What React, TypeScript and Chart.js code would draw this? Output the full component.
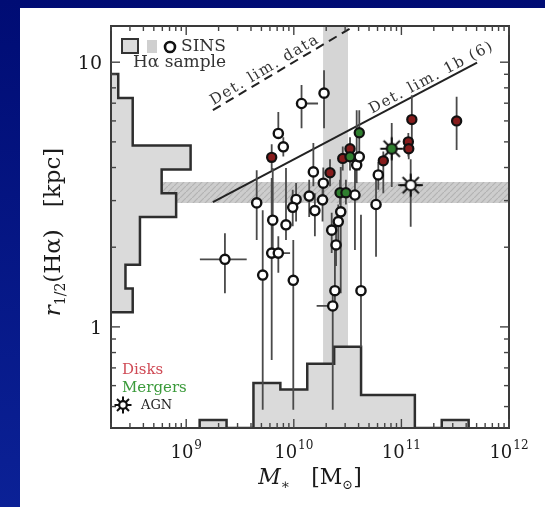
import React, { useEffect, useRef } from 'react';
import { Chart, registerables } from 'chart.js';

Chart.register(...registerables);

const SERIF = '"DejaVu Serif", "Liberation Serif", serif';

// ---------- axis ranges & ticks ----------
const massMin = 2e8;
const massMax = 1e12;
const sizeMin = 0.415;
const sizeMax = 13.7;

const massTickValues = [1e9, 1e10, 1e11, 1e12];
const massTickExponents = ['9', '10', '11', '12'];
const sizeTickValues = [1, 10];
const sizeTickLabels = ['1', '10'];

// ---------- histograms ----------
const massBinEdgesLog = [9.125, 9.375, 9.625, 9.875, 10.125, 10.375, 10.625, 10.875, 11.125, 11.375, 11.625];
const massBinCounts = [1, 0, 5.6, 4.8, 8, 10.1, 4.1, 4.1, 0, 1];
const sizeBinEdgesLog = [0.055, 0.145, 0.235, 0.325, 0.415, 0.505, 0.595, 0.685, 0.775, 0.865, 0.955];
const sizeBinCounts = [3, 2, 4, 4, 9, 7, 11, 3, 3, 1];
const massCountMax = 50;
const sizeCountMax = 55;

// ---------- shaded bands ----------
const massBandRange = [1.87e10, 3.19e10];
const sizeBandRange = [2.94, 3.53];

// ---------- detection limit lines ----------
const detDataMass = [1.77e9, 3.33e10];
const detDataSize = [6.59, 13.4];
const det1bMass = [1.77e9, 5.05e11];
const det1bSize = [2.96, 9.96];

// ---------- SINS galaxies (mass in 1e10 Msun, r in kpc) ----------
const sinsMass = [1.18, 1.91, 0.718, 0.799, 1.52, 1.88, 6.10, 5.81, 3.70, 0.452, 1.05, 1.39, 0.977, 1.85, 1.57, 0.637, 0.846, 2.73, 2.59, 2.25, 2.47, 0.229, 0.623, 0.718, 0.514, 0.989, 2.41, 4.21, 2.30, 3.84, 4.06];
const sinsSize = [6.98, 7.64, 5.38, 4.79, 3.85, 3.49, 3.75, 2.90, 3.15, 2.94, 3.03, 3.12, 2.83, 3.02, 2.75, 2.53, 2.43, 2.72, 2.50, 2.32, 2.04, 1.80, 1.90, 1.90, 1.57, 1.50, 1.37, 1.37, 1.20, 4.09, 4.39];
const sinsSizeLo = [5.63, 5.63, 5.17, 4.40, 3.40, 2.90, 3.30, 1.84, 1.95, 2.13, 2.50, 2.60, 2.40, 2.50, 2.20, 1.95, 2.13, 1.34, 2.10, 1.90, 1.70, 1.34, 0.75, 1.60, 0.486, 0.486, 1.20, 0.84, 0.486, 3.50, 3.90];
const sinsSizeHi = [8.20, 9.33, 6.49, 5.20, 4.95, 4.00, 4.20, 3.81, 4.00, 3.91, 3.50, 3.60, 3.30, 3.50, 3.20, 3.98, 3.98, 4.02, 2.90, 2.70, 2.40, 2.26, 3.65, 2.20, 2.76, 2.13, 1.95, 2.65, 1.34, 6.59, 4.90];

const diskMass = [0.623, 2.17, 3.33, 2.85, 6.79, 11.6, 11.7, 12.5, 32.6];
const diskSize = [4.37, 3.82, 4.71, 4.33, 4.24, 5.00, 4.71, 6.07, 6.00];
const diskSizeLo = [3.90, 3.40, 4.20, 3.90, 3.20, 4.40, 4.30, 5.00, 4.66];
const diskSizeHi = [4.90, 4.30, 5.20, 4.80, 4.60, 5.40, 5.10, 7.50, 7.40];

const mergerMass = [4.06, 3.33, 2.69, 3.05];
const mergerSize = [5.41, 4.39, 3.21, 3.21];
const mergerSizeLo = [4.50, 3.90, 2.90, 2.90];
const mergerSizeHi = [6.59, 4.90, 3.60, 3.60];

const mergerAgnMass = [8.13];
const mergerAgnSize = [4.71];
const mergerAgnSizeLo = [3.38];
const mergerAgnSizeHi = [5.89];

const agnMass = [12.2];
const agnSize = [3.43];
const agnSizeLo = [2.39];
const agnSizeHi = [4.30];

// horizontal (mass) error bars
const hbarSize = [6.98, 1.80, 1.90, 1.20, 3.43];
const hbarMassLo = [1.10, 0.134, 0.60, 1.63, 9.29];
const hbarMassHi = [1.68, 0.365, 0.923, 2.30, 15.9];

const M = (v: number) => v * 1e10;

function drawAgn(g: CanvasRenderingContext2D, cx: number, cy: number, R: number, r: number, fill: string) {
  g.save();
  g.strokeStyle = '#111';
  g.lineWidth = 2;
  for (let i = 0; i < 8; i++) {
    const t = (i * Math.PI) / 4;
    g.beginPath();
    g.moveTo(cx + r * Math.cos(t), cy + r * Math.sin(t));
    g.lineTo(cx + R * Math.cos(t), cy + R * Math.sin(t));
    g.stroke();
  }
  g.beginPath();
  g.arc(cx, cy, r, 0, Math.PI * 2);
  g.fillStyle = fill;
  g.fill();
  g.lineWidth = 2.2;
  g.stroke();
  g.restore();
}

function makeAgnCanvas(fill: string) {
  const c = document.createElement('canvas');
  c.width = 26;
  c.height = 26;
  const g = c.getContext('2d')!;
  drawAgn(g, 13, 13, 11.5, 5, fill);
  return c;
}

type Part = { t: string; font: string; dy: number };
function drawRich(ctx: CanvasRenderingContext2D, parts: Part[], x: number, y: number) {
  let total = 0;
  const widths: number[] = [];
  for (const p of parts) {
    ctx.font = p.font;
    const w = ctx.measureText(p.t).width;
    widths.push(w);
    total += w;
  }
  let cx = x - total / 2;
  parts.forEach((p, i) => {
    ctx.font = p.font;
    ctx.fillText(p.t, cx, y + p.dy);
    cx += widths[i];
  });
}

function drawAlong(ctx: CanvasRenderingContext2D, text: string, x0: number, y0: number, x1: number, y1: number, dist: number, off: number) {
  const ang = Math.atan2(y1 - y0, x1 - x0);
  ctx.save();
  ctx.translate(x0 + Math.cos(ang) * dist, y0 + Math.sin(ang) * dist);
  ctx.rotate(ang);
  ctx.fillText(text, 0, -off);
  ctx.restore();
}

const decorPlugin = {
  id: 'decor',
  afterDatasetsDraw(chart: any) {
    const { ctx, chartArea: a } = chart;
    const xs = chart.scales.x;
    const ys = chart.scales.y;
    ctx.save();

    // frame
    ctx.strokeStyle = '#3a3a3a';
    ctx.lineWidth = 2;
    ctx.strokeRect(a.left, a.top, a.right - a.left, a.bottom - a.top);

    // inward ticks
    ctx.strokeStyle = '#444';
    ctx.lineWidth = 1.4;
    const seg = (x0: number, y0: number, x1: number, y1: number) => {
      ctx.beginPath();
      ctx.moveTo(x0, y0);
      ctx.lineTo(x1, y1);
      ctx.stroke();
    };
    for (let e = 8; e <= 12; e++) {
      for (let k = 1; k <= 9; k++) {
        const v = k * Math.pow(10, e);
        if (v < massMin * 0.999 || v > massMax * 1.001) continue;
        const px = xs.getPixelForValue(v);
        const len = k === 1 ? 9 : 5;
        seg(px, a.bottom, px, a.bottom - len);
        seg(px, a.top, px, a.top + len);
      }
    }
    for (let e = -1; e <= 1; e++) {
      for (let k = 1; k <= 9; k++) {
        const v = k * Math.pow(10, e);
        if (v < sizeMin || v > sizeMax) continue;
        const py = ys.getPixelForValue(v);
        const len = k === 1 ? 9 : 5;
        seg(a.left, py, a.left + len, py);
        seg(a.right, py, a.right - len, py);
      }
    }

    // tick labels
    ctx.fillStyle = '#1a1a1a';
    ctx.textBaseline = 'alphabetic';
    ctx.textAlign = 'left';
    massTickValues.forEach((v, i) => {
      const px = xs.getPixelForValue(v);
      ctx.font = `18px ${SERIF}`;
      const w1 = ctx.measureText('10').width;
      ctx.font = `12px ${SERIF}`;
      const w2 = ctx.measureText(massTickExponents[i]).width;
      const x0 = px - (w1 + w2 + 1) / 2;
      ctx.font = `18px ${SERIF}`;
      ctx.fillText('10', x0, a.bottom + 30);
      ctx.font = `12px ${SERIF}`;
      ctx.fillText(massTickExponents[i], x0 + w1 + 1, a.bottom + 21);
    });
    ctx.textAlign = 'right';
    ctx.font = `19px ${SERIF}`;
    sizeTickValues.forEach((v, i) => {
      const py = ys.getPixelForValue(v);
      ctx.fillText(sizeTickLabels[i], a.left - 9, py + 7);
    });

    // axis titles
    ctx.textAlign = 'left';
    ctx.fillStyle = '#1a1a1a';
    drawRich(ctx, [
      { t: 'M', font: `italic 22px ${SERIF}`, dy: 0 },
      { t: '∗', font: `14px ${SERIF}`, dy: 5 },
      { t: '   [M', font: `22px ${SERIF}`, dy: 0 },
      { t: '⊙', font: `13px ${SERIF}`, dy: 5 },
      { t: ']', font: `22px ${SERIF}`, dy: 0 },
    ], (a.left + a.right) / 2, a.bottom + 56);

    ctx.save();
    ctx.translate(a.left - 51, (a.top + a.bottom) / 2 + 5);
    ctx.rotate(-Math.PI / 2);
    drawRich(ctx, [
      { t: 'r', font: `italic 23px ${SERIF}`, dy: 0 },
      { t: '1/2', font: `14px ${SERIF}`, dy: 5 },
      { t: '(Hα)', font: `23px ${SERIF}`, dy: 0 },
      { t: '   [kpc]', font: `23px ${SERIF}`, dy: 0 },
    ], 0, 0);
    ctx.restore();

    // detection limit labels
    ctx.fillStyle = '#333';
    ctx.font = `15px ${SERIF}`;
    (ctx as any).letterSpacing = '1.5px';
    drawAlong(ctx, 'Det. lim. data',
      xs.getPixelForValue(detDataMass[0]), ys.getPixelForValue(detDataSize[0]),
      xs.getPixelForValue(detDataMass[1]), ys.getPixelForValue(detDataSize[1]), 3, 4);
    drawAlong(ctx, 'Det. lim. 1b (6)',
      xs.getPixelForValue(det1bMass[0]), ys.getPixelForValue(det1bSize[0]),
      xs.getPixelForValue(det1bMass[1]), ys.getPixelForValue(det1bSize[1]), 182, 4);
    (ctx as any).letterSpacing = '0px';

    // top-left legend
    ctx.fillStyle = '#dadada';
    ctx.fillRect(a.left + 11, a.top + 13, 16, 14);
    ctx.strokeStyle = '#333';
    ctx.lineWidth = 2;
    ctx.strokeRect(a.left + 11, a.top + 13, 16, 14);
    ctx.fillStyle = '#cfcfcf';
    ctx.fillRect(a.left + 36, a.top + 14, 10, 13);
    ctx.beginPath();
    ctx.arc(a.left + 59, a.top + 21, 5, 0, Math.PI * 2);
    ctx.fillStyle = '#fff';
    ctx.fill();
    ctx.lineWidth = 2.6;
    ctx.strokeStyle = '#111';
    ctx.stroke();
    ctx.fillStyle = '#333';
    ctx.font = `17px ${SERIF}`;
    ctx.textBaseline = 'middle';
    ctx.textAlign = 'left';
    ctx.fillText('SINS', a.left + 70, a.top + 21);
    ctx.fillText('Hα sample', a.left + 22, a.top + 37);

    // bottom-left legend
    ctx.font = `15px ${SERIF}`;
    ctx.fillStyle = '#cf4a55';
    ctx.fillText('Disks', a.left + 11, a.bottom - 58);
    ctx.fillStyle = '#3a9a3a';
    ctx.fillText('Mergers', a.left + 11, a.bottom - 40);
    drawAgn(ctx, a.left + 12, a.bottom - 23, 8.5, 3.8, '#fff');
    ctx.fillStyle = '#222';
    ctx.font = `13px ${SERIF}`;
    ctx.fillText('AGN', a.left + 30, a.bottom - 22);

    ctx.restore();
  },
};

export default function App() {
  const ref = useRef<HTMLCanvasElement>(null);

  useEffect(() => {
    const canvas = ref.current;
    if (!canvas) return;
    const c2d = canvas.getContext('2d')!;

    // hatch pattern for horizontal band
    const pc = document.createElement('canvas');
    pc.width = 6;
    pc.height = 6;
    const pg = pc.getContext('2d')!;
    pg.fillStyle = '#cdcdcd';
    pg.fillRect(0, 0, 6, 6);
    pg.strokeStyle = '#b3b3b3';
    pg.lineWidth = 1.2;
    pg.beginPath();
    pg.moveTo(0, 6);
    pg.lineTo(6, 0);
    pg.stroke();
    const hatch = c2d.createPattern(pc, 'repeat');

    const agnImg = makeAgnCanvas('#ffffff');
    const agnGreenImg = makeAgnCanvas('#2f7f2f');

    const massHist: any[] = [{ x: Math.pow(10, massBinEdgesLog[0]), y: 0 }];
    massBinCounts.forEach((c, i) => {
      massHist.push({ x: Math.pow(10, massBinEdgesLog[i]), y: c }, { x: Math.pow(10, massBinEdgesLog[i + 1]), y: c });
    });
    massHist.push({ x: Math.pow(10, massBinEdgesLog[massBinEdgesLog.length - 1]), y: 0 });

    const sizeHist: any[] = [{ x: 0, y: Math.pow(10, sizeBinEdgesLog[0]) }];
    sizeBinCounts.forEach((c, i) => {
      sizeHist.push({ x: c, y: Math.pow(10, sizeBinEdgesLog[i]) }, { x: c, y: Math.pow(10, sizeBinEdgesLog[i + 1]) });
    });
    sizeHist.push({ x: 0, y: Math.pow(10, sizeBinEdgesLog[sizeBinEdgesLog.length - 1]) });

    const vErr: any[] = [];
    const addV = (mass: number[], lo: number[], hi: number[]) => {
      mass.forEach((m, i) => {
        vErr.push({ x: M(m), y: lo[i] }, { x: M(m), y: hi[i] }, { x: M(m), y: null });
      });
    };
    addV(sinsMass, sinsSizeLo, sinsSizeHi);
    addV(diskMass, diskSizeLo, diskSizeHi);
    addV(mergerMass, mergerSizeLo, mergerSizeHi);
    addV(mergerAgnMass, mergerAgnSizeLo, mergerAgnSizeHi);
    addV(agnMass, agnSizeLo, agnSizeHi);

    const hErr: any[] = [];
    hbarSize.forEach((r, i) => {
      hErr.push({ x: M(hbarMassLo[i]), y: r }, { x: M(hbarMassHi[i]), y: r }, { x: M(hbarMassHi[i]), y: null });
    });

    const pts = (mass: number[], size: number[]) => mass.map((m, i) => ({ x: M(m), y: size[i] }));

    const lineBase = { type: 'line', pointRadius: 0, pointHitRadius: 0, tension: 0, spanGaps: false };
    const transparent = 'rgba(0,0,0,0)';

    const chart = new Chart(canvas, {
      type: 'scatter',
      data: {
        datasets: [
          {
            ...lineBase,
            data: [
              { x: massBandRange[0], y: sizeMin },
              { x: massBandRange[1], y: sizeMin },
              { x: massBandRange[1], y: sizeMax },
              { x: massBandRange[0], y: sizeMax },
            ],
            fill: 'shape',
            backgroundColor: '#d5d5d5',
            borderColor: transparent,
            borderWidth: 0,
            order: 100,
          },
          {
            ...lineBase,
            data: [
              { x: massMin, y: sizeBandRange[0] },
              { x: massMax, y: sizeBandRange[0] },
              { x: massMax, y: sizeBandRange[1] },
              { x: massMin, y: sizeBandRange[1] },
            ],
            fill: 'shape',
            backgroundColor: hatch,
            borderColor: transparent,
            borderWidth: 0,
            order: 99,
          },
          {
            ...lineBase,
            data: massHist,
            yAxisID: 'hy',
            fill: 'shape',
            backgroundColor: '#dadada',
            borderColor: '#2e2e2e',
            borderWidth: 2.5,
            order: 90,
          },
          {
            ...lineBase,
            data: sizeHist,
            xAxisID: 'hx',
            fill: 'shape',
            backgroundColor: '#dadada',
            borderColor: '#2e2e2e',
            borderWidth: 2.5,
            order: 89,
          },
          {
            ...lineBase,
            data: detDataMass.map((m, i) => ({ x: m, y: detDataSize[i] })),
            borderColor: '#222',
            borderWidth: 2,
            borderDash: [9, 6],
            fill: false,
            order: 80,
          },
          {
            ...lineBase,
            data: det1bMass.map((m, i) => ({ x: m, y: det1bSize[i] })),
            borderColor: '#222',
            borderWidth: 2,
            fill: false,
            order: 80,
          },
          {
            ...lineBase,
            data: vErr,
            borderColor: '#4a4a4a',
            borderWidth: 1.8,
            fill: false,
            order: 70,
          },
          {
            ...lineBase,
            data: hErr,
            borderColor: '#4a4a4a',
            borderWidth: 1.8,
            fill: false,
            order: 70,
          },
          {
            data: pts(sinsMass, sinsSize),
            pointRadius: 4.6,
            pointBackgroundColor: '#ffffff',
            pointBorderColor: '#111',
            pointBorderWidth: 2.4,
            order: 10,
          },
          {
            data: pts(diskMass, diskSize),
            pointRadius: 4.6,
            pointBackgroundColor: '#861c1c',
            pointBorderColor: '#111',
            pointBorderWidth: 2.2,
            order: 9,
          },
          {
            data: pts(mergerMass, mergerSize),
            pointRadius: 4.6,
            pointBackgroundColor: '#2f7f2f',
            pointBorderColor: '#111',
            pointBorderWidth: 2.2,
            order: 8,
          },
          {
            data: pts(mergerAgnMass, mergerAgnSize),
            pointStyle: agnGreenImg,
            order: 7,
          },
          {
            data: pts(agnMass, agnSize),
            pointStyle: agnImg,
            order: 6,
          },
        ] as any,
      },
      options: {
        animation: false,
        responsive: false,
        events: [],
        layout: { padding: { left: 0, top: 26, right: 36, bottom: 0 } },
        plugins: { legend: { display: false }, tooltip: { enabled: false } },
        scales: {
          x: {
            type: 'logarithmic',
            position: 'bottom',
            min: massMin,
            max: massMax,
            bounds: 'data',
            grid: { display: false, drawTicks: false },
            border: { display: false },
            ticks: { display: false },
            afterFit: (s: any) => { s.height = 79; },
          },
          y: {
            type: 'logarithmic',
            position: 'left',
            min: sizeMin,
            max: sizeMax,
            bounds: 'data',
            grid: { display: false, drawTicks: false },
            border: { display: false },
            ticks: { display: false },
            afterFit: (s: any) => { s.width = 111; },
          },
          hx: {
            type: 'linear',
            axis: 'x',
            position: 'bottom',
            display: false,
            min: 0,
            max: sizeCountMax,
          },
          hy: {
            type: 'linear',
            axis: 'y',
            position: 'left',
            display: false,
            min: 0,
            max: massCountMax,
          },
        } as any,
      },
      plugins: [decorPlugin],
    } as any);

    return () => chart.destroy();
  }, []);

  return (
    <div
      style={{
        position: 'fixed',
        left: 0,
        top: 0,
        width: 545,
        height: 507,
        overflow: 'hidden',
        background: 'linear-gradient(180deg, #000c74 0%, #0b2196 100%)',
      }}
    >
      <div style={{ position: 'absolute', left: 20, top: 8, right: 0, bottom: 0, background: '#ffffff' }} />
      <canvas ref={ref} width={545} height={507} style={{ position: 'absolute', left: 0, top: 0, display: 'block' }} />
    </div>
  );
}
